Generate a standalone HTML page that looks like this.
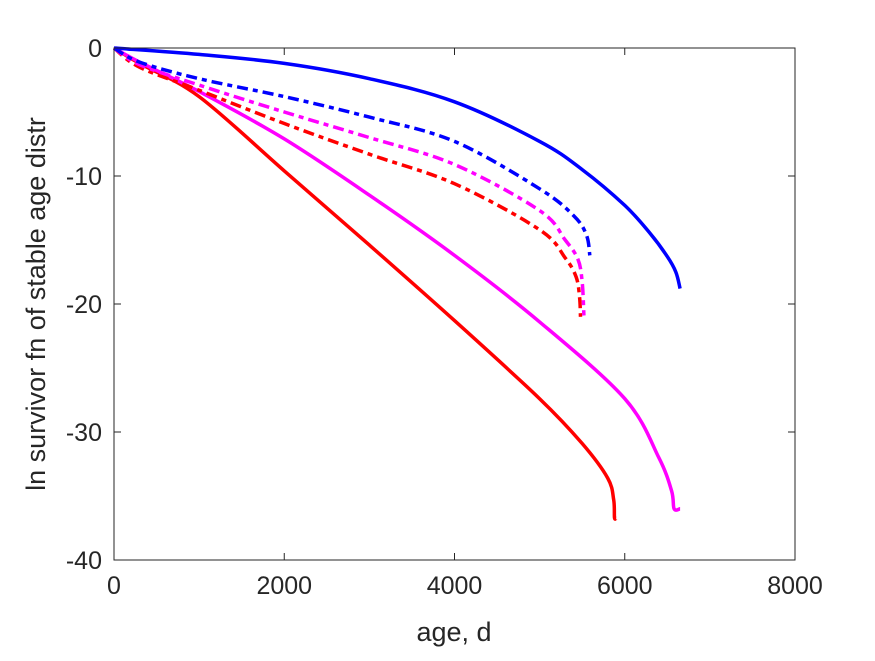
<!DOCTYPE html>
<html><head><meta charset="utf-8"><style>
body{margin:0;background:#fff;}
svg text{font-family:"Liberation Sans",Arial,sans-serif;fill:#262626;}
</style></head><body>
<svg width="875" height="656">
<rect x="0" y="0" width="875" height="656" fill="#fff"/>
<g id="marks"></g>
<rect x="114" y="48" width="681" height="512" fill="none" stroke="#262626" stroke-width="1"/>
<g id="ticks"></g>
<text x="454" y="641" font-size="27" text-anchor="middle">age, d</text>
<text transform="translate(45,304) rotate(-90)" font-size="27" text-anchor="middle">ln survivor fn of stable age distr</text>
</svg>
<script>
const xTicks=[0,2000,4000,6000,8000];
const yTicks=[0,-10,-20,-30,-40];
const blueSolidX=[0,1000,2000,3000,4000,5000,5500,6000,6300,6500,6600,6650];
const blueSolidY=[0,-0.5,-1.2,-2.4,-4.2,-7.3,-9.5,-12.3,-14.5,-16.3,-17.5,-18.8];
const blueDashX=[0,300,1000,2000,3000,4000,5000,5400,5550,5590];
const blueDashY=[0,-1.1,-2.4,-3.8,-5.4,-7.3,-11.0,-13.1,-14.6,-16.2];
const magDashX=[0,300,1000,2000,3000,4000,5000,5300,5450,5500,5520];
const magDashY=[0,-1.3,-2.9,-5.0,-7.0,-9.1,-12.7,-15.0,-16.5,-18.3,-20.9];
const redDashX=[0,300,1000,2000,3000,4000,5000,5300,5430,5470,5480];
const redDashY=[0,-1.5,-3.3,-5.9,-8.3,-10.6,-14.2,-16.4,-17.9,-19.5,-21.0];
const redSolidX=[0,300,1000,2000,3000,4000,5000,5500,5800,5870,5880,5900];
const redSolidY=[0,-1.2,-3.8,-9.6,-15.4,-21.3,-27.4,-30.9,-33.6,-35.3,-36.7,-36.7];
const magSolidX=[0,300,1000,2000,3000,4000,5000,6000,6400,6550,6580,6650];
const magSolidY=[0,-1.1,-3.4,-7.1,-11.5,-16.2,-21.4,-27.4,-32.0,-34.6,-36.0,-36.0];
const sx=d=>114+d*681/8000;
const sy=v=>48-v*512/40;
const NS="http://www.w3.org/2000/svg";
const marks=document.getElementById('marks');
function smoothPath(xs,ys){
  const P=xs.map((x,i)=>[sx(x),sy(ys[i])]);
  let d='M'+P[0][0].toFixed(1)+','+P[0][1].toFixed(1);
  for(let i=0;i<P.length-1;i++){
    const p0=P[Math.max(i-1,0)],p1=P[i],p2=P[i+1],p3=P[Math.min(i+2,P.length-1)];
    const c1=[p1[0]+(p2[0]-p0[0])/6,p1[1]+(p2[1]-p0[1])/6];
    const c2=[p2[0]-(p3[0]-p1[0])/6,p2[1]-(p3[1]-p1[1])/6];
    d+='C'+c1.map(v=>v.toFixed(1)).join(',')+' '+c2.map(v=>v.toFixed(1)).join(',')+' '+p2[0].toFixed(1)+','+p2[1].toFixed(1);
  }
  return d;
}
function line(xs,ys,color,dash,name){
  const p=document.createElementNS(NS,'path');
  p.setAttribute('d',smoothPath(xs,ys));
  p.setAttribute('fill','none');p.setAttribute('stroke',color);p.setAttribute('stroke-width','3.5');
  if(dash)p.setAttribute('stroke-dasharray',dash);
  
  
  marks.appendChild(p);
}
line(redSolidX,redSolidY,'#ff0000',null,'red-solid-line');
line(magSolidX,magSolidY,'#ff00ff',null,'magenta-solid-line');
line(blueSolidX,blueSolidY,'#0000ff',null,'blue-solid-line');
line(redDashX,redDashY,'#ff0000','11,5,5,5','red-dashdot-line');
line(magDashX,magDashY,'#ff00ff','11,5,5,5','magenta-dashdot-line');
line(blueDashX,blueDashY,'#0000ff','11,5,5,5','blue-dashdot-line');
const tg=document.getElementById('ticks');
xTicks.forEach(t=>{
  const l=document.createElementNS(NS,'line');
  l.setAttribute('x1',sx(t));l.setAttribute('x2',sx(t));l.setAttribute('y1',560);l.setAttribute('y2',553);l.setAttribute('stroke','#262626');
  
  
  tg.appendChild(l);
  const l2=l.cloneNode();l2.setAttribute('y1',48);l2.setAttribute('y2',55);tg.appendChild(l2);
  const tx=document.createElementNS(NS,'text');
  tx.setAttribute('x',sx(t));tx.setAttribute('y',594);tx.setAttribute('font-size','25');tx.setAttribute('text-anchor','middle');
  tx.textContent=t;
  
  
  tg.appendChild(tx);
});
yTicks.forEach(t=>{
  const l=document.createElementNS(NS,'line');
  l.setAttribute('x1',114);l.setAttribute('x2',121);l.setAttribute('y1',sy(t));l.setAttribute('y2',sy(t));l.setAttribute('stroke','#262626');
  
  
  tg.appendChild(l);
  const l2=l.cloneNode();l2.setAttribute('x1',795);l2.setAttribute('x2',788);tg.appendChild(l2);
  const tx=document.createElementNS(NS,'text');
  tx.setAttribute('x',102);tx.setAttribute('y',sy(t)+9);tx.setAttribute('font-size','25');tx.setAttribute('text-anchor','end');
  tx.textContent=t;
  
  
  tg.appendChild(tx);
});
</script>
</body></html>
